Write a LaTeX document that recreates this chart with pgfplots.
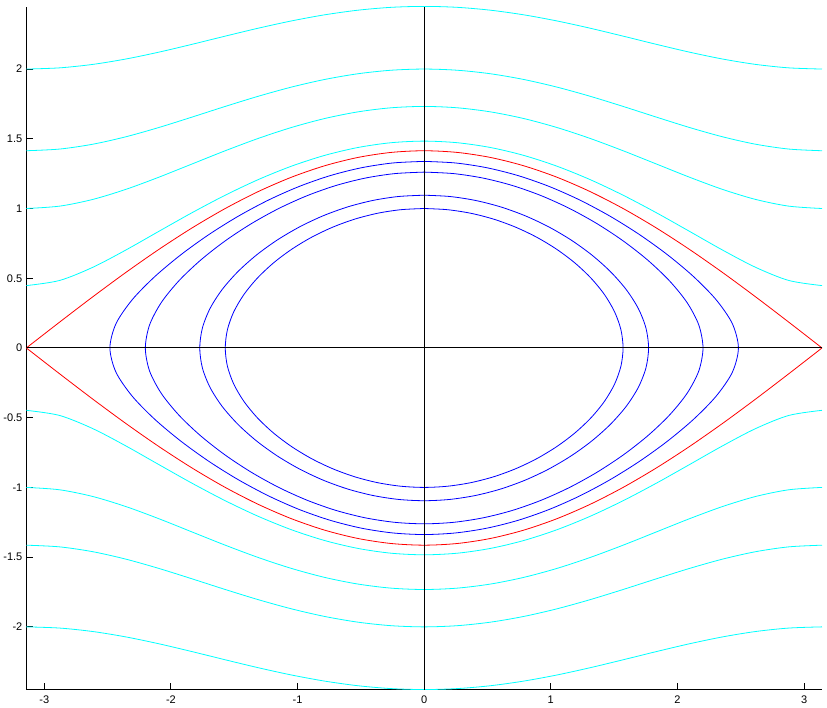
\documentclass[border=0pt]{standalone}
\usepackage{pgfplots}
\pgfplotsset{compat=1.18}
\usepackage{pgfplotstable}
\usepackage{fontspec}
\setmainfont{Liberation Sans}
\definecolor{cy}{RGB}{0,255,255}
\definecolor{bl}{RGB}{0,0,255}
\definecolor{rd}{RGB}{255,0,0}
\pgfplotstableread{
x a b c d r
-3.14159 0.44721 1.0 1.41421 2.0 0
-2.87979 0.48381 1.01689 1.42621 2.00850 0.18460
-2.61799 0.57790 1.06488 1.46081 2.03322 0.36603
-2.35619 0.70206 1.13706 1.51423 2.07193 0.54120
-2.09440 0.83666 1.22474 1.58114 2.12132 0.70711
-1.83260 0.97015 1.31954 1.65565 2.17743 0.86091
-1.57080 1.09545 1.41421 1.73205 2.23607 1.0
-1.30900 1.20782 1.50294 1.80522 2.29321 1.12197
-1.04720 1.30384 1.58114 1.87083 2.34521 1.22474
-0.78540 1.38098 1.64533 1.92539 2.38895 1.30656
-0.52360 1.43737 1.69294 1.96622 2.42199 1.36603
-0.26180 1.47171 1.72219 1.99146 2.44252 1.40211
0 1.48324 1.73205 2 2.44949 1.41421
0.26180 1.47171 1.72219 1.99146 2.44252 1.40211
0.52360 1.43737 1.69294 1.96622 2.42199 1.36603
0.78540 1.38098 1.64533 1.92539 2.38895 1.30656
1.04720 1.30384 1.58114 1.87083 2.34521 1.22474
1.30900 1.20782 1.50294 1.80522 2.29321 1.12197
1.57080 1.09545 1.41421 1.73205 2.23607 1.0
1.83260 0.97015 1.31954 1.65565 2.17743 0.86091
2.09440 0.83666 1.22474 1.58114 2.12132 0.70711
2.35619 0.70206 1.13706 1.51423 2.07193 0.54120
2.61799 0.57790 1.06488 1.46081 2.03322 0.36603
2.87979 0.48381 1.01689 1.42621 2.00850 0.18460
3.14159 0.44721 1.0 1.41421 2.0 0
}\opencurves
\begin{document}
\begin{tikzpicture}
\begin{axis}[
  scale only axis, width=795pt, height=682pt,
  xmin=-3.14159, xmax=3.14159, ymin=-2.4495, ymax=2.445,
  axis lines=left, axis line style={-, line width=1pt, black},
  tick align=inside, major tick length=7pt, tick style={line width=1pt, black},
  xtick={-3,-2,-1,0,1,2,3},
  ytick={-2,-1.5,-1,-0.5,0,0.5,1,1.5,2},
  /pgf/number format/assume math mode=true,
  ticklabel style={font=\fontsize{11}{13}\selectfont},
  xticklabel style={yshift=-3pt},
  yticklabel style={xshift=-0.5pt},
  every axis plot/.append style={line width=0.8pt, line join=round},
]
\addplot[cy, smooth] table[x=x, y=a]{\opencurves};
\addplot[cy, smooth] table[x=x, y expr=-\thisrow{a}]{\opencurves};
\addplot[cy, smooth] table[x=x, y=b]{\opencurves};
\addplot[cy, smooth] table[x=x, y expr=-\thisrow{b}]{\opencurves};
\addplot[cy, smooth] table[x=x, y=c]{\opencurves};
\addplot[cy, smooth] table[x=x, y expr=-\thisrow{c}]{\opencurves};
\addplot[cy, smooth] table[x=x, y=d]{\opencurves};
\addplot[cy, smooth] table[x=x, y expr=-\thisrow{d}]{\opencurves};
% closed orbits
\addplot[bl, smooth] coordinates {(0,1) (0.1849,0.9914) (0.3681,0.9659) (0.5480,0.9239) (0.7227,0.8660) (0.8900,0.7934) (1.0472,0.7071) (1.1912,0.6088) (1.3181,0.5) (1.4238,0.3827) (1.5038,0.2588) (1.5538,0.1305) (1.5708,0)
(1.5538,-0.1305) (1.5038,-0.2588) (1.4238,-0.3827) (1.3181,-0.5) (1.1912,-0.6088) (1.0472,-0.7071) (0.8900,-0.7934) (0.7227,-0.8660) (0.5480,-0.9239) (0.3681,-0.9659) (0.1849,-0.9914) (0,-1)
(-0.1849,-0.9914) (-0.3681,-0.9659) (-0.5480,-0.9239) (-0.7227,-0.8660) (-0.8900,-0.7934) (-1.0472,-0.7071) (-1.1912,-0.6088) (-1.3181,-0.5) (-1.4238,-0.3827) (-1.5038,-0.2588) (-1.5538,-0.1305) (-1.5708,0)
(-1.5538,0.1305) (-1.5038,0.2588) (-1.4238,0.3827) (-1.3181,0.5) (-1.1912,0.6088) (-1.0472,0.7071) (-0.8900,0.7934) (-0.7227,0.8660) (-0.5480,0.9239) (-0.3681,0.9659) (-0.1849,0.9914) (0,1)};
\addplot[bl, smooth] coordinates {(0,1.0954) (0.2026,1.0861) (0.4036,1.0581) (0.6019,1.0121) (0.7954,0.9487) (0.9821,0.8691) (1.1593,0.7746) (1.3236,0.6669) (1.4706,0.5477) (1.5951,0.4192) (1.6907,0.2835) (1.7513,0.1430) (1.7722,0)
(1.7513,-0.1430) (1.6907,-0.2835) (1.5951,-0.4192) (1.4706,-0.5477) (1.3236,-0.6669) (1.1593,-0.7746) (0.9821,-0.8691) (0.7954,-0.9487) (0.6019,-1.0121) (0.4036,-1.0581) (0.2026,-1.0861) (0,-1.0954)
(-0.2026,-1.0861) (-0.4036,-1.0581) (-0.6019,-1.0121) (-0.7954,-0.9487) (-0.9821,-0.8691) (-1.1593,-0.7746) (-1.3236,-0.6669) (-1.4706,-0.5477) (-1.5951,-0.4192) (-1.6907,-0.2835) (-1.7513,-0.1430) (-1.7722,0)
(-1.7513,0.1430) (-1.6907,0.2835) (-1.5951,0.4192) (-1.4706,0.5477) (-1.3236,0.6669) (-1.1593,0.7746) (-0.9821,0.8691) (-0.7954,0.9487) (-0.6019,1.0121) (-0.4036,1.0581) (-0.2026,1.0861) (0,1.0954)};
\addplot[bl, smooth] coordinates {(0,1.2610) (0.2333,1.2502) (0.4657,1.2180) (0.6964,1.1650) (0.9242,1.0920) (1.1475,1.0004) (1.3643,0.8916) (1.5716,0.7676) (1.7645,0.6305) (1.9360,0.4825) (2.0754,0.3264) (2.1687,0.1646) (2.2019,0)
(2.1687,-0.1646) (2.0754,-0.3264) (1.9360,-0.4825) (1.7645,-0.6305) (1.5716,-0.7676) (1.3643,-0.8916) (1.1475,-1.0004) (0.9242,-1.0920) (0.6964,-1.1650) (0.4657,-1.2180) (0.2333,-1.2502) (0,-1.2610)
(-0.2333,-1.2502) (-0.4657,-1.2180) (-0.6964,-1.1650) (-0.9242,-1.0920) (-1.1475,-1.0004) (-1.3643,-0.8916) (-1.5716,-0.7676) (-1.7645,-0.6305) (-1.9360,-0.4825) (-2.0754,-0.3264) (-2.1687,-0.1646) (-2.2019,0)
(-2.1687,0.1646) (-2.0754,0.3264) (-1.9360,0.4825) (-1.7645,0.6305) (-1.5716,0.7676) (-1.3643,0.8916) (-1.1475,1.0004) (-0.9242,1.0920) (-0.6964,1.1650) (-0.4657,1.2180) (-0.2333,1.2502) (0,1.2610)};
\addplot[bl, smooth] coordinates {(0,1.3379) (0.2476,1.3265) (0.4948,1.2923) (0.7409,1.2361) (0.9854,1.1587) (1.2275,1.0614) (1.4656,0.9460) (1.6978,0.8145) (1.9204,0.6690) (2.1269,0.5120) (2.3051,0.3463) (2.4334,0.1746) (2.4816,0)
(2.4334,-0.1746) (2.3051,-0.3463) (2.1269,-0.5120) (1.9204,-0.6690) (1.6978,-0.8145) (1.4656,-0.9460) (1.2275,-1.0614) (0.9854,-1.1587) (0.7409,-1.2361) (0.4948,-1.2923) (0.2476,-1.3265) (0,-1.3379)
(-0.2476,-1.3265) (-0.4948,-1.2923) (-0.7409,-1.2361) (-0.9854,-1.1587) (-1.2275,-1.0614) (-1.4656,-0.9460) (-1.6978,-0.8145) (-1.9204,-0.6690) (-2.1269,-0.5120) (-2.3051,-0.3463) (-2.4334,-0.1746) (-2.4816,0)
(-2.4334,0.1746) (-2.3051,0.3463) (-2.1269,0.5120) (-1.9204,0.6690) (-1.6978,0.8145) (-1.4656,0.9460) (-1.2275,1.0614) (-0.9854,1.1587) (-0.7409,1.2361) (-0.4948,1.2923) (-0.2476,1.3265) (0,1.3379)};
% separatrix
\addplot[rd, smooth] table[x=x, y=r]{\opencurves};
\addplot[rd, smooth] table[x=x, y expr=-\thisrow{r}]{\opencurves};
% axes through origin
\addplot[black, line width=1pt] coordinates {(-3.14159,0) (3.14159,0)};
\addplot[black, line width=1pt] coordinates {(0,-2.4495) (0,2.445)};
\end{axis}
\path (current axis.north east) ++(5pt,7pt);
\end{tikzpicture}
\end{document}
